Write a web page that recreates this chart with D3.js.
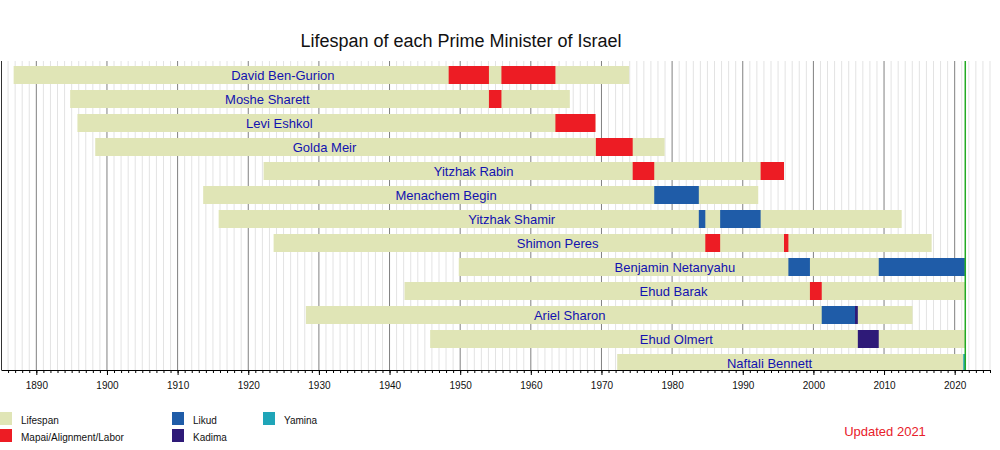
<!DOCTYPE html>
<html>
<head>
<meta charset="utf-8">
<script src="https://cdn.jsdelivr.net/npm/d3@7"></script>
<style>
  body { margin: 0; background: #fff; }
  svg { font-family: "Liberation Sans", Arial, sans-serif; }
</style>
</head>
<body>
<svg id="chart"></svg>
<script>
// Prime ministers, top to bottom
const names = ["David Ben-Gurion", "Moshe Sharett", "Levi Eshkol", "Golda Meir", "Yitzhak Rabin",
    "Menachem Begin", "Yitzhak Shamir", "Shimon Peres", "Benjamin Netanyahu", "Ehud Barak",
    "Ariel Sharon", "Ehud Olmert", "Naftali Bennett"];
// birth / death as decimal years (null = still alive, bar runs to "now")
const born = [1886.79, 1894.79, 1895.82, 1898.34, 1922.17, 1913.62, 1915.81, 1923.59, 1949.80, 1942.12, 1928.16, 1945.75, 1972.23];
const died = [1973.92, 1965.52, 1969.15, 1978.94, 1995.84, 1992.19, 2012.50, 2016.74, null, null, 2014.03, null, null];
// year at which each name label is centred
const labelAt = [1924.9, 1922.7, 1924.4, 1930.8, 1951.9, 1948.0, 1957.3, 1963.8, 1980.4, 1980.2, 1965.5, 1980.6, 1993.8];

// terms in office
const termPM    = [0, 0, 1, 2, 3, 4, 4, 5, 6, 6, 7, 7, 8, 8, 9, 10, 10, 11, 12];
const termParty = [1, 1, 1, 1, 1, 1, 1, 2, 2, 2, 1, 1, 2, 2, 1, 2, 3, 3, 4];
const termFrom  = [1948.37, 1955.84, 1954.07, 1963.48, 1969.21, 1974.42, 1992.53, 1977.47, 1983.78, 1986.80,
    1984.70, 1995.84, 1996.46, 2009.25, 1999.51, 2001.18, 2005.89, 2006.29, 2021.45];
const termTo    = [1954.07, 1963.48, 1955.84, 1969.15, 1974.42, 1977.47, 1995.84, 1983.78, 1984.70, 1992.53,
    1986.80, 1996.46, 1999.51, 2021.45, 2001.18, 2005.89, 2006.29, 2009.25, 2021.50];

const parties = ["Lifespan", "Mapai/Alignment/Labor", "Likud", "Kadima", "Yamina"];
const partyColors = ["#e0e5b6", "#ed1c24", "#1f5ca8", "#2e1a78", "#1fa5b8"];

const nowYear = 2021.5;
const yearDomain = [1885, 2025];
const tickYears = d3.range(1890, 2021, 10);
const minorYears = d3.range(1886, 2026);

const W = 1000, H = 450;
const plotTop = 61, plotBottom = 370;

const svg = d3.select("#chart").attr("width", W).attr("height", H);

const x = d3.scaleLinear().domain(yearDomain).range([1, 990]);
const y = d3.scaleBand().domain(names).range([63, 375]).paddingInner(0.25).paddingOuter(0.125);

svg.append("defs").append("clipPath").attr("id", "plot")
    .append("rect").attr("x", 0).attr("y", plotTop).attr("width", 991).attr("height", plotBottom - plotTop);

// title
svg.append("text")
    .attr("x", 461).attr("y", 47)
    .attr("text-anchor", "middle")
    .style("font-size", "18px")
    .style("fill", "#111")
    .text("Lifespan of each Prime Minister of Israel");

// grid
const grid = svg.append("g");
grid.selectAll(".minor")
    .data(minorYears.filter(d => d % 10 !== 0))
    .join("line")
    .attr("x1", d => x(d)).attr("x2", d => x(d))
    .attr("y1", plotTop).attr("y2", plotBottom)
    .style("stroke", "#e3e3e3");
grid.selectAll(".major")
    .data(tickYears)
    .join("line")
    .attr("x1", d => x(d)).attr("x2", d => x(d))
    .attr("y1", plotTop).attr("y2", plotBottom)
    .style("stroke", "#808080");
grid.append("line")
    .attr("x1", 1.5).attr("x2", 1.5).attr("y1", plotTop).attr("y2", plotBottom)
    .style("stroke", "#333");

const plot = svg.append("g").attr("clip-path", "url(#plot)");

// lifespan bars
plot.selectAll(".life")
    .data(names)
    .join("rect")
    .attr("x", (d, i) => x(born[i]))
    .attr("width", (d, i) => x(died[i] ?? nowYear) - x(born[i]))
    .attr("y", d => y(d))
    .attr("height", y.bandwidth())
    .style("fill", partyColors[0]);

// terms in office
plot.selectAll(".term")
    .data(termPM)
    .join("rect")
    .attr("x", (d, i) => Math.min(x(termFrom[i]), x(termTo[i]) - 2))
    .attr("width", (d, i) => Math.max(2, x(termTo[i]) - x(termFrom[i])))
    .attr("y", d => y(names[d]))
    .attr("height", y.bandwidth())
    .style("fill", (d, i) => partyColors[termParty[i]]);

// names
svg.selectAll(".name")
    .data(names)
    .join("text")
    .attr("x", (d, i) => x(labelAt[i]))
    .attr("y", d => y(d) + y.bandwidth() / 2)
    .attr("dy", "0.35em")
    .attr("text-anchor", "middle")
    .style("font-size", "13px")
    .style("fill", "#1212b0")
    .text(d => d);

// "now" line
svg.append("line")
    .attr("x1", x(nowYear)).attr("x2", x(nowYear))
    .attr("y1", plotTop).attr("y2", plotBottom)
    .style("stroke", "#22aa22")
    .style("stroke-width", 1.5);

// axis: minor ticks every year, labelled ticks every decade
svg.append("g")
    .attr("transform", `translate(0,${plotBottom})`)
    .call(d3.axisBottom(x).tickValues(minorYears).tickFormat("").tickSize(3).tickSizeOuter(0))
    .call(g => g.select(".domain").style("stroke", "#000"));

svg.append("g")
    .attr("transform", `translate(0,${plotBottom})`)
    .call(d3.axisBottom(x).tickValues(tickYears).tickFormat(d3.format("d")).tickSize(5).tickPadding(7).tickSizeOuter(0))
    .call(g => g.select(".domain").remove())
    .call(g => g.selectAll("text").style("font-size", "10px").style("fill", "#111")
        .style("font-family", "'Liberation Sans', Arial, sans-serif"));

// legend, two rows per column
const legendCols = [0, 172, 263];
const legend = svg.append("g");
parties.forEach((p, i) => {
    const cx = legendCols[Math.floor(i / 2)];
    const cy = 412 + (i % 2) * 17;
    legend.append("rect")
        .attr("x", cx).attr("y", cy)
        .attr("width", 12).attr("height", 13)
        .style("fill", partyColors[i]);
    legend.append("text")
        .attr("x", cx + 21).attr("y", cy + 12)
        .style("font-size", "10px")
        .style("fill", "#111")
        .text(p);
});

svg.append("text")
    .attr("x", 885).attr("y", 436)
    .attr("text-anchor", "middle")
    .style("font-size", "13px")
    .style("fill", "#e8202a")
    .text("Updated 2021");
</script>
</body>
</html>
